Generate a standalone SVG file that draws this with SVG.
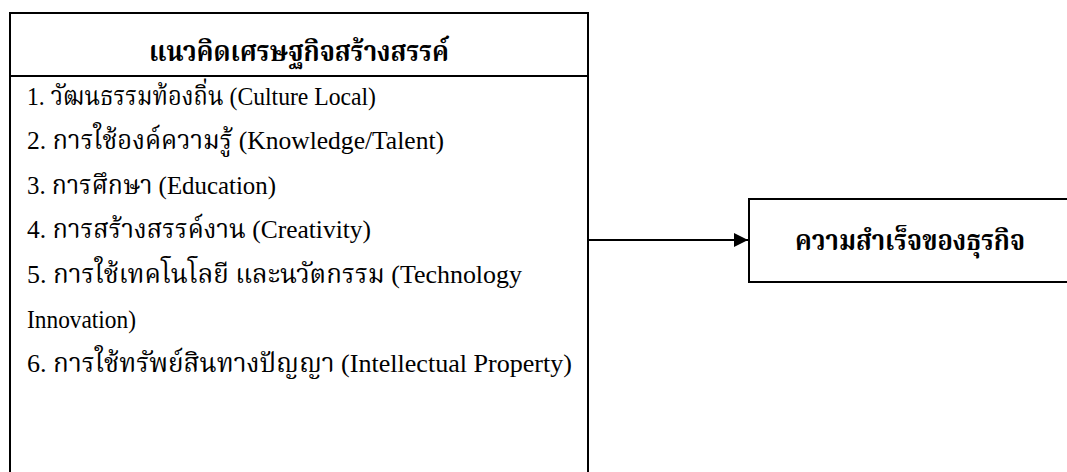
<svg xmlns="http://www.w3.org/2000/svg" width="1067" height="472" viewBox="0 0 1067 472">
  <style>
    .box { fill: #ffffff; stroke: #000000; stroke-width: 2; }
    .rule { stroke: #000000; stroke-width: 2; fill: none; }
    .title { font-family: "Liberation Serif", "Noto Serif Thai", "Noto Sans Thai", "DejaVu Serif", serif; font-size: 28px; font-weight: bold; fill: #000000; }
    .item { font-family: "Liberation Serif", "Noto Serif Thai", "Noto Sans Thai", "DejaVu Serif", serif; font-size: 26px; fill: #000000; }
    .link { stroke: #000000; stroke-width: 2; fill: none; }
  </style>
  <defs>
    <marker id="arrow" viewBox="0 0 10 10" refX="10" refY="5" markerWidth="8" markerHeight="7" markerUnits="strokeWidth" orient="auto">
      <path d="M0,0 L10,5 L0,10 Z" fill="#000000"/>
    </marker>
  </defs>
  <rect width="1067" height="472" fill="#ffffff"/>

  <!-- creative economy concept box (runs past the bottom edge) -->
  <g id="concept">
    <rect class="box" x="10" y="13" width="578" height="480"/>
    <line class="rule" x1="10" y1="76" x2="588" y2="76"/>
    <text class="title" x="299" y="61" text-anchor="middle" textLength="300" lengthAdjust="spacingAndGlyphs">แนวคิดเศรษฐกิจสร้างสรรค์</text>
    <text class="item" x="27" y="105" textLength="349" lengthAdjust="spacingAndGlyphs">1. วัฒนธรรมท้องถิ่น (Culture Local)</text>
    <text class="item" x="27" y="149" textLength="417" lengthAdjust="spacingAndGlyphs">2. การใช้องค์ความรู้ (Knowledge/Talent)</text>
    <text class="item" x="27" y="194" textLength="249" lengthAdjust="spacingAndGlyphs">3. การศึกษา (Education)</text>
    <text class="item" x="27" y="238" textLength="344" lengthAdjust="spacingAndGlyphs">4. การสร้างสรรค์งาน (Creativity)</text>
    <text class="item" x="27" y="283" textLength="495" lengthAdjust="spacingAndGlyphs">5. การใช้เทคโนโลยี และนวัตกรรม (Technology</text>
    <text class="item" x="27" y="328" textLength="109" lengthAdjust="spacingAndGlyphs">Innovation)</text>
    <text class="item" x="27" y="372" textLength="545" lengthAdjust="spacingAndGlyphs">6. การใช้ทรัพย์สินทางปัญญา (Intellectual Property)</text>
  </g>

  <!-- business success box (runs past the right edge) -->
  <g id="success">
    <rect class="box" x="749" y="199" width="330" height="83"/>
    <text class="title" x="910" y="250" text-anchor="middle" textLength="230" lengthAdjust="spacingAndGlyphs">ความสำเร็จของธุรกิจ</text>
  </g>

  <g id="connectors">
    <line class="link" x1="588" y1="240" x2="748" y2="240" marker-end="url(#arrow)"/>
  </g>
</svg>
